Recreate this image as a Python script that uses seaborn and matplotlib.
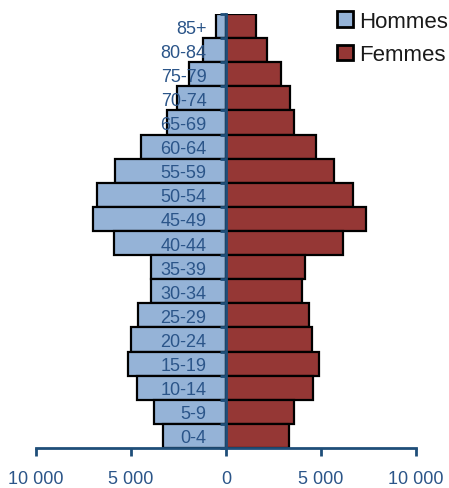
import matplotlib
matplotlib.use("Agg")
import matplotlib.pyplot as plt
from matplotlib.patches import Patch
from matplotlib.ticker import FixedLocator, FuncFormatter
import seaborn as sns
import pandas as pd

# Age groups, oldest at the top
age_groups = ["85+", "80-84", "75-79", "70-74", "65-69", "60-64", "55-59",
              "50-54", "45-49", "40-44", "35-39", "30-34", "25-29", "20-24",
              "15-19", "10-14", "5-9", "0-4"]
hommes = [550, 1230, 1960, 2560, 3090, 4460, 5820, 6770, 6980, 5890,
          3930, 3960, 4630, 4980, 5160, 4700, 3790, 3300]
femmes = [1580, 2140, 2910, 3370, 3580, 4740, 5680, 6670, 7370, 6140,
          4180, 4000, 4390, 4530, 4910, 4600, 3580, 3330]
x_ticks = [-10000, -5000, 0, 5000, 10000]

df = pd.DataFrame({"age": age_groups,
                   "hommes": [-v for v in hommes],
                   "femmes": femmes})

sns.set_theme(style="white")
plt.rcParams["font.family"] = ["Liberation Sans", "DejaVu Sans"]

axis_col = "#1f4e79"
label_col = "#2b5589"
blue = "#95b3d7"
red = "#953735"

fig = plt.figure(figsize=(4.49, 4.89), dpi=100)
ax = fig.add_axes([36 / 449, 40 / 489, 380 / 449, 434 / 489])

sns.barplot(data=df, x="hommes", y="age", order=age_groups, orient="h",
            color=blue, saturation=1, width=1.0, edgecolor="black",
            linewidth=1.6, ax=ax)
sns.barplot(data=df, x="femmes", y="age", order=age_groups, orient="h",
            color=red, saturation=1, width=1.0, edgecolor="black",
            linewidth=1.6, ax=ax)

ax.set_axisbelow(False)
ax.set_xlim(-10000, 10000)
ax.set_ylim(len(age_groups) - 0.5, -0.5)
ax.set_xlabel("")
ax.set_ylabel("")

# Spines: vertical axis at zero, horizontal axis at the bottom
for s in ("top", "right"):
    ax.spines[s].set_visible(False)
ax.spines["left"].set_position(("data", 0))
ax.spines["left"].set_color(axis_col)
ax.spines["left"].set_linewidth(2)
ax.spines["bottom"].set_color(axis_col)
ax.spines["bottom"].set_linewidth(2)
ax.spines["left"].set_zorder(5)

ax.xaxis.set_major_locator(FixedLocator(x_ticks))
ax.xaxis.set_major_formatter(
    FuncFormatter(lambda v, p: f"{abs(int(v)):,}".replace(",", " ")))
ax.tick_params(axis="x", which="major", direction="out", length=6, width=2,
               color=axis_col, labelcolor=label_col, labelsize=13, pad=10,
               bottom=True)

# Category labels sit left of the zero axis, ticks at category boundaries
ax.tick_params(axis="y", which="major", length=0, pad=14,
               labelcolor=label_col, labelsize=13, left=True)
ax.yaxis.set_minor_locator(FixedLocator([i - 0.5 for i in range(len(age_groups) + 1)]))
ax.tick_params(axis="y", which="minor", direction="out", length=4, width=2,
               color=axis_col, left=True)

handles = [Patch(facecolor=blue, edgecolor="black", linewidth=2, label="Hommes"),
           Patch(facecolor=red, edgecolor="black", linewidth=2, label="Femmes")]
fig.legend(handles=handles, loc="upper left",
           bbox_to_anchor=(337 / 449, 1 - 12 / 489), frameon=False,
           fontsize=16, handlelength=0.7, handleheight=0.7,
           handletextpad=0.3, borderpad=0, borderaxespad=0,
           labelspacing=0.55, labelcolor="#1a1a1a")

fig.savefig("out.png", dpi=100)
